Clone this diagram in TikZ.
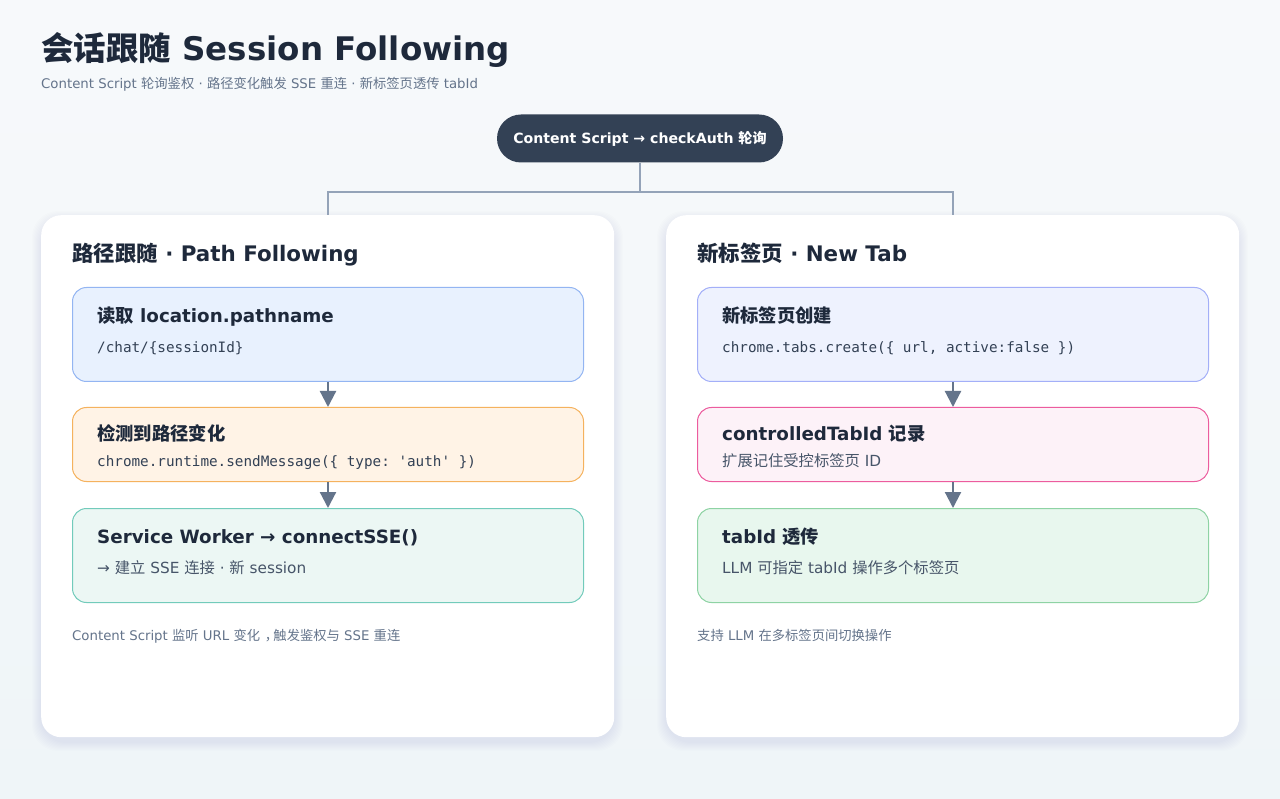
\documentclass[tikz,border=0pt]{standalone}
\usepackage{fontspec}
\setmainfont{DejaVu Sans}
\setmonofont{DejaVu Sans Mono}
\newfontfamily\cjk{Noto Sans CJK SC}
\newcommand{\zh}[1]{{\cjk #1}}
\usetikzlibrary{arrows.meta,positioning,backgrounds}

\definecolor{ink}{HTML}{1E293B}
\definecolor{muted}{HTML}{64748B}
\definecolor{body}{HTML}{475569}
\definecolor{slate}{HTML}{334155}
\definecolor{wire}{HTML}{94A3B8}
\definecolor{haze}{HTML}{3B5A7A}
\definecolor{bgA}{HTML}{F7F9FB}     \definecolor{bgB}{HTML}{EFF5F8}
\definecolor{blueF}{HTML}{E8F1FE}   \definecolor{blueD}{HTML}{93B5F2}
\definecolor{orangeF}{HTML}{FFF3E6} \definecolor{orangeD}{HTML}{F5B25E}
\definecolor{tealF}{HTML}{ECF7F4}   \definecolor{tealD}{HTML}{72CBBB}
\definecolor{indigoF}{HTML}{EEF2FE} \definecolor{indigoD}{HTML}{A3AFF8}
\definecolor{pinkF}{HTML}{FDF2F8}   \definecolor{pinkD}{HTML}{EC5C9E}
\definecolor{greenF}{HTML}{E8F7EE}  \definecolor{greenD}{HTML}{8ED3A4}

\begin{document}
\begin{tikzpicture}[x=1pt,y=-1pt]
    % `card' is used for the two white panels.
    % `stage' is used for the coloured boxes inside a panel.
    % `head', `code' and `note' are the texts written in a box.
    \tikzstyle{card} = [fill=white,rounded corners=20pt,minimum width=573pt,minimum height=522pt,anchor=north west]
    \tikzstyle{stage} = [draw,line width=1pt,rounded corners=14pt,minimum width=511pt,anchor=north west,inner sep=0pt]
    \tikzstyle{head} = [anchor=base west,inner sep=0pt,text=ink,font=\bfseries\fontsize{18.3}{20}\selectfont]
    \tikzstyle{code} = [anchor=base west,inner sep=0pt,text=slate,font=\ttfamily\fontsize{14.3}{16}\selectfont]
    \tikzstyle{note} = [anchor=base west,inner sep=0pt,text=body,font=\fontsize{15.3}{18}\selectfont]
    \tikzstyle{foot} = [anchor=base west,inner sep=0pt,text=muted,font=\fontsize{13.3}{16}\selectfont]
    \tikzstyle{cardtitle} = [anchor=base west,inner sep=0pt,text=ink,font=\bfseries\fontsize{21.4}{24}\selectfont]
    \tikzstyle{flow} = [draw=muted,line width=2.2pt,-{Triangle[length=16pt,width=16pt]}]
    \tikzstyle{link} = [draw=wire,line width=2pt]
    %
    \useasboundingbox (0,0) rectangle (1280,799);
    \shade[top color=bgA,bottom color=bgB] (0,0) rectangle (1280,799);

    % Heading.
    \node[anchor=base west,inner sep=0pt,text=ink,font=\bfseries\fontsize{32.5}{36}\selectfont] (title) at (41,61)
      {\zh{会话跟随} Session Following};
    \node[anchor=base west,inner sep=0pt,text=muted,font=\fontsize{13.3}{16}\selectfont] (subtitle) at (41,89)
      {Content Script \zh{轮询鉴权} · \zh{路径变化触发} SSE \zh{重连} · \zh{新标签页透传} tabId};

    % Soft shadows under the panels.
    \foreach \x in {41,666}
      \foreach \i in {1,...,9}
        \fill[haze,opacity=0.009,rounded corners=26pt] (\x-\i,215-\i+5) rectangle (\x+573+\i,737+\i+5);

    % Top pill and the two panels.
    \node[fill=slate,rounded corners=24pt,minimum width=286pt,minimum height=48pt,text=white,
      font=\bfseries\fontsize{14.1}{16}\selectfont] (pill) at (640,138.5) {Content Script → checkAuth \zh{轮询}};
    \node[card] (left) at (41,215) {};
    \node[card] (right) at (666,215) {};
    \coordinate (fork) at (640,192);
    \draw[link] (pill) -- (fork);
    \draw[link] (left.north) |- (fork) -| (right.north);

    % Left panel: path following.
    \node[cardtitle] (leftT) at (72,262) {\zh{路径跟随} · Path Following};
    \node[stage,fill=blueF,draw=blueD,minimum height=94pt] (pathRead) at (72,287) {};
    \node[head] at (97,323) {\zh{读取} location.pathname};
    \node[code] at (97,353) {/chat/\{sessionId\}};
    \node[stage,fill=orangeF,draw=orangeD,minimum height=74pt] (pathDetect) at (72,407) {};
    \node[head] at (97,441) {\zh{检测到路径变化}};
    \node[code] at (97,467) {chrome.runtime.sendMessage(\{ type: 'auth' \})};
    \node[stage,fill=tealF,draw=tealD,minimum height=94pt] (pathSSE) at (72,508) {};
    \node[head] at (97,543) {Service Worker → connectSSE()};
    \node[note] at (97,573) {→ \zh{建立} SSE \zh{连接} · \zh{新} session};
    \node[foot] (leftF) at (72,640)
      {Content Script \zh{监听} URL \zh{变化}\hspace{0.35em}\zh{，}\hspace{-0.35em}\zh{触发鉴权与} SSE \zh{重连}};
    \draw[flow] (pathRead.south) -- (pathDetect.north);
    \draw[flow] (pathDetect.south) -- (pathSSE.north);

    % Right panel: new tab.
    \node[cardtitle] (rightT) at (697,262) {\zh{新标签页} · New Tab};
    \node[stage,fill=indigoF,draw=indigoD,minimum height=94pt] (tabNew) at (697,287) {};
    \node[head] at (722,323) {\zh{新标签页创建}};
    \node[code] at (722,353) {chrome.tabs.create(\{ url, active:false \})};
    \node[stage,fill=pinkF,draw=pinkD,minimum height=74pt] (tabRecord) at (697,407) {};
    \node[head] at (722,441) {controlledTabId \zh{记录}};
    \node[note] at (722,467) {\zh{扩展记住受控标签页} ID};
    \node[stage,fill=greenF,draw=greenD,minimum height=94pt] (tabPass) at (697,508) {};
    \node[head] at (722,543) {tabId \zh{透传}};
    \node[note] at (722,573) {LLM \zh{可指定} tabId \zh{操作多个标签页}};
    \node[foot] (rightF) at (697,640) {\zh{支持} LLM \zh{在多标签页间切换操作}};
    \draw[flow] (tabNew.south) -- (tabRecord.north);
    \draw[flow] (tabRecord.south) -- (tabPass.north);
\end{tikzpicture}
\end{document}
